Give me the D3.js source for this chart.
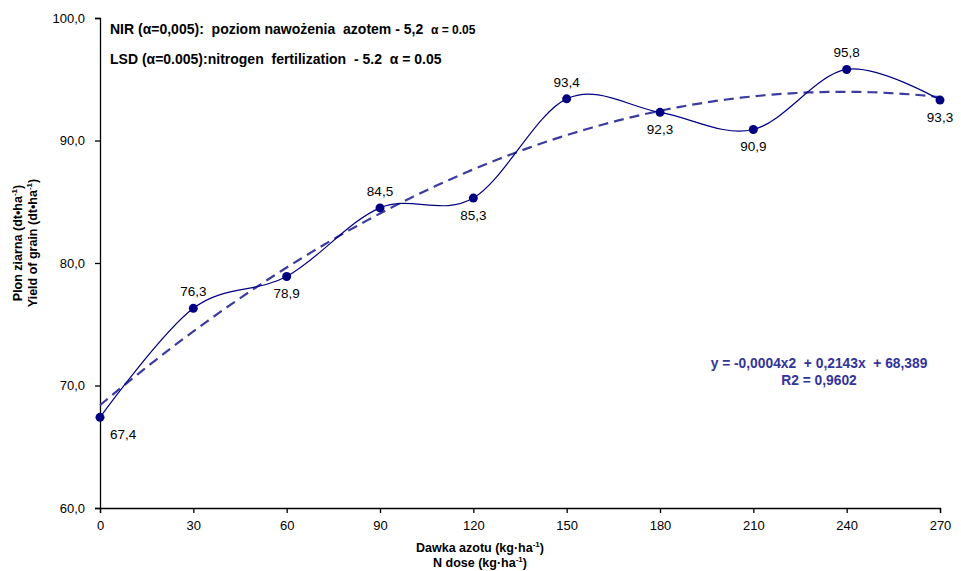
<!DOCTYPE html>
<html>
<head>
<meta charset="utf-8">
<script src="https://cdn.jsdelivr.net/npm/d3@7"></script>
<style>
  body { margin: 0; background: #fff; }
  svg { font-family: "Liberation Sans", Arial, sans-serif; }
  .pre { white-space: pre; }
</style>
</head>
<body>
<div id="chart"></div>
<script>
// dawki azotu i plon
const doses = [0, 30, 60, 90, 120, 150, 180, 210, 240, 270]
const yields = [67.4, 76.3, 78.9, 84.5, 85.3, 93.4, 92.3, 90.9, 95.8, 93.3]
// pozycja etykiety: nad (-1) lub pod (1) punktem
const labelSide = [1, -1, 1, -1, 1, -1, 1, 1, -1, 1]
const yTicks = [60, 70, 80, 90, 100]
const xTicks = [0, 30, 60, 90, 120, 150, 180, 210, 240, 270]

const margin = { top: 18, right: 21, bottom: 63, left: 100 },
    width = 961 - margin.left - margin.right,
    height = 571 - margin.top - margin.bottom;

const svg = d3.select("#chart")
    .append("svg")
    .attr("width", 961)
    .attr("height", 571)
    .append("g")
    .attr("transform", `translate(${margin.left},${margin.top})`);

const xScale = d3.scaleLinear().domain([0, 270]).range([0, width])
const yScale = d3.scaleLinear().domain([60, 100]).range([height, 0])

// osie
const yAxis = d3.axisLeft(yScale).tickValues(yTicks).tickSize(5).tickPadding(10)
    .tickFormat(d => d3.format(".1f")(d).replace(".", ","))
const xAxis = d3.axisBottom(xScale).tickValues(xTicks).tickSize(5).tickPadding(8)

const gy = svg.append("g").call(yAxis)
const gx = svg.append("g").attr("transform", `translate(0,${height})`).call(xAxis)
for (const g of [gx, gy]) {
    g.select(".domain").attr("stroke", "#000").attr("stroke-width", 1.3)
    g.selectAll(".tick line").attr("stroke", "#000").attr("stroke-width", 1.3)
    g.selectAll(".tick text").attr("font-size", 13).attr("fill", "#000")
        .attr("font-family", "Liberation Sans, Arial, sans-serif")
}

// trend wielomianowy 2 stopnia (najmniejsze kwadraty)
function polyFit(xs, ys) {
    const S = [0, 0, 0, 0, 0], T = [0, 0, 0]
    xs.forEach((x, i) => {
        for (let k = 0; k < 5; k++) S[k] += Math.pow(x, k)
        for (let k = 0; k < 3; k++) T[k] += ys[i] * Math.pow(x, k)
    })
    const A = [[S[0], S[1], S[2], T[0]], [S[1], S[2], S[3], T[1]], [S[2], S[3], S[4], T[2]]]
    for (let i = 0; i < 3; i++) {
        for (let j = i + 1; j < 3; j++) {
            const f = A[j][i] / A[i][i]
            for (let k = i; k < 4; k++) A[j][k] -= f * A[i][k]
        }
    }
    const c = [0, 0, 0]
    for (let i = 2; i >= 0; i--) {
        let s = A[i][3]
        for (let k = i + 1; k < 3; k++) s -= A[i][k] * c[k]
        c[i] = s / A[i][i]
    }
    return c
}
const coef = polyFit(doses, yields)
const trendX = d3.range(0, 270.5, 2)
const trendLine = d3.line()
    .x(d => xScale(d))
    .y(d => yScale(coef[0] + coef[1] * d + coef[2] * d * d))

svg.append("path")
    .datum(trendX)
    .attr("d", trendLine)
    .attr("fill", "none")
    .attr("stroke", "#3b3ba0")
    .attr("stroke-width", 2.2)
    .attr("stroke-dasharray", "10,6")

// linia wygładzona
const line = d3.line()
    .x((d, i) => xScale(doses[i]))
    .y(d => yScale(d))
    .curve(d3.curveCardinal.tension(0))

svg.append("path")
    .datum(yields)
    .attr("d", line)
    .attr("fill", "none")
    .attr("stroke", "#000080")
    .attr("stroke-width", 1.2)

svg.selectAll("circle")
    .data(yields)
    .enter().append("circle")
    .attr("cx", (d, i) => xScale(doses[i]))
    .attr("cy", d => yScale(d))
    .attr("r", 4.5)
    .attr("fill", "#000080")

svg.selectAll(".lbl")
    .data(yields)
    .enter().append("text")
    .attr("class", "lbl")
    .attr("x", (d, i) => xScale(doses[i]) + (i == 0 ? 10 : 0))
    .attr("y", (d, i) => yScale(d) + (labelSide[i] > 0 ? 22 : -12))
    .attr("text-anchor", (d, i) => i == 0 ? "start" : "middle")
    .attr("font-size", 13.5)
    .text(d => d3.format(".1f")(d).replace(".", ","))

// tytuły osi
const xt = svg.append("text")
    .attr("text-anchor", "middle")
    .attr("font-size", 12.5)
    .attr("font-weight", "bold")
xt.append("tspan").attr("x", 380).attr("y", height + 44).text("Dawka azotu (kg·ha")
xt.append("tspan").attr("font-size", 8).attr("dy", -5).text("-1")
xt.append("tspan").attr("dy", 5).text(")")
const xt2 = svg.append("text")
    .attr("text-anchor", "middle")
    .attr("font-size", 12.5)
    .attr("font-weight", "bold")
xt2.append("tspan").attr("x", 380).attr("y", height + 59).text("N dose (kg·ha")
xt2.append("tspan").attr("font-size", 8).attr("dy", -5).text("-1")
xt2.append("tspan").attr("dy", 5).text(")")

const yt = svg.append("g").attr("transform", `translate(-78,${225}) rotate(-90)`)
const yt1 = yt.append("text").attr("text-anchor", "middle").attr("font-size", 12.5).attr("font-weight", "bold")
yt1.append("tspan").attr("x", 0).attr("y", 0).text("Plon ziarna (dt•ha")
yt1.append("tspan").attr("font-size", 8).attr("dy", -5).text("-1")
yt1.append("tspan").attr("dy", 5).text(")")
const yt2 = yt.append("text").attr("text-anchor", "middle").attr("font-size", 12.5).attr("font-weight", "bold")
yt2.append("tspan").attr("x", 0).attr("y", 15).text("Yield of grain (dt•ha")
yt2.append("tspan").attr("font-size", 8).attr("dy", -5).text("-1")
yt2.append("tspan").attr("dy", 5).text(")")

// adnotacje NIR / LSD
const n1 = svg.append("text").attr("class", "pre").attr("x", 10).attr("y", 16).attr("font-size", 14).attr("font-weight", "bold")
n1.append("tspan").text("NIR (α=0,005):  poziom nawożenia  azotem - 5,2  ")
n1.append("tspan").attr("font-size", 12).text("α = 0.05")
const n2 = svg.append("text").attr("class", "pre").attr("x", 10).attr("y", 46).attr("font-size", 14).attr("font-weight", "bold")
n2.append("tspan").text("LSD (α=0.005):nitrogen  fertilization  - 5.2  α = 0.05")

// równanie trendu
svg.append("text").attr("class", "pre").attr("x", 719).attr("y", 350).attr("text-anchor", "middle")
    .attr("font-size", 13.8).attr("font-weight", "bold").attr("fill", "#333399")
    .text("y = -0,0004x2  + 0,2143x  + 68,389")
svg.append("text").attr("class", "pre").attr("x", 719).attr("y", 367).attr("text-anchor", "middle")
    .attr("font-size", 13.8).attr("font-weight", "bold").attr("fill", "#333399")
    .text("R2 = 0,9602")
</script>
</body>
</html>
